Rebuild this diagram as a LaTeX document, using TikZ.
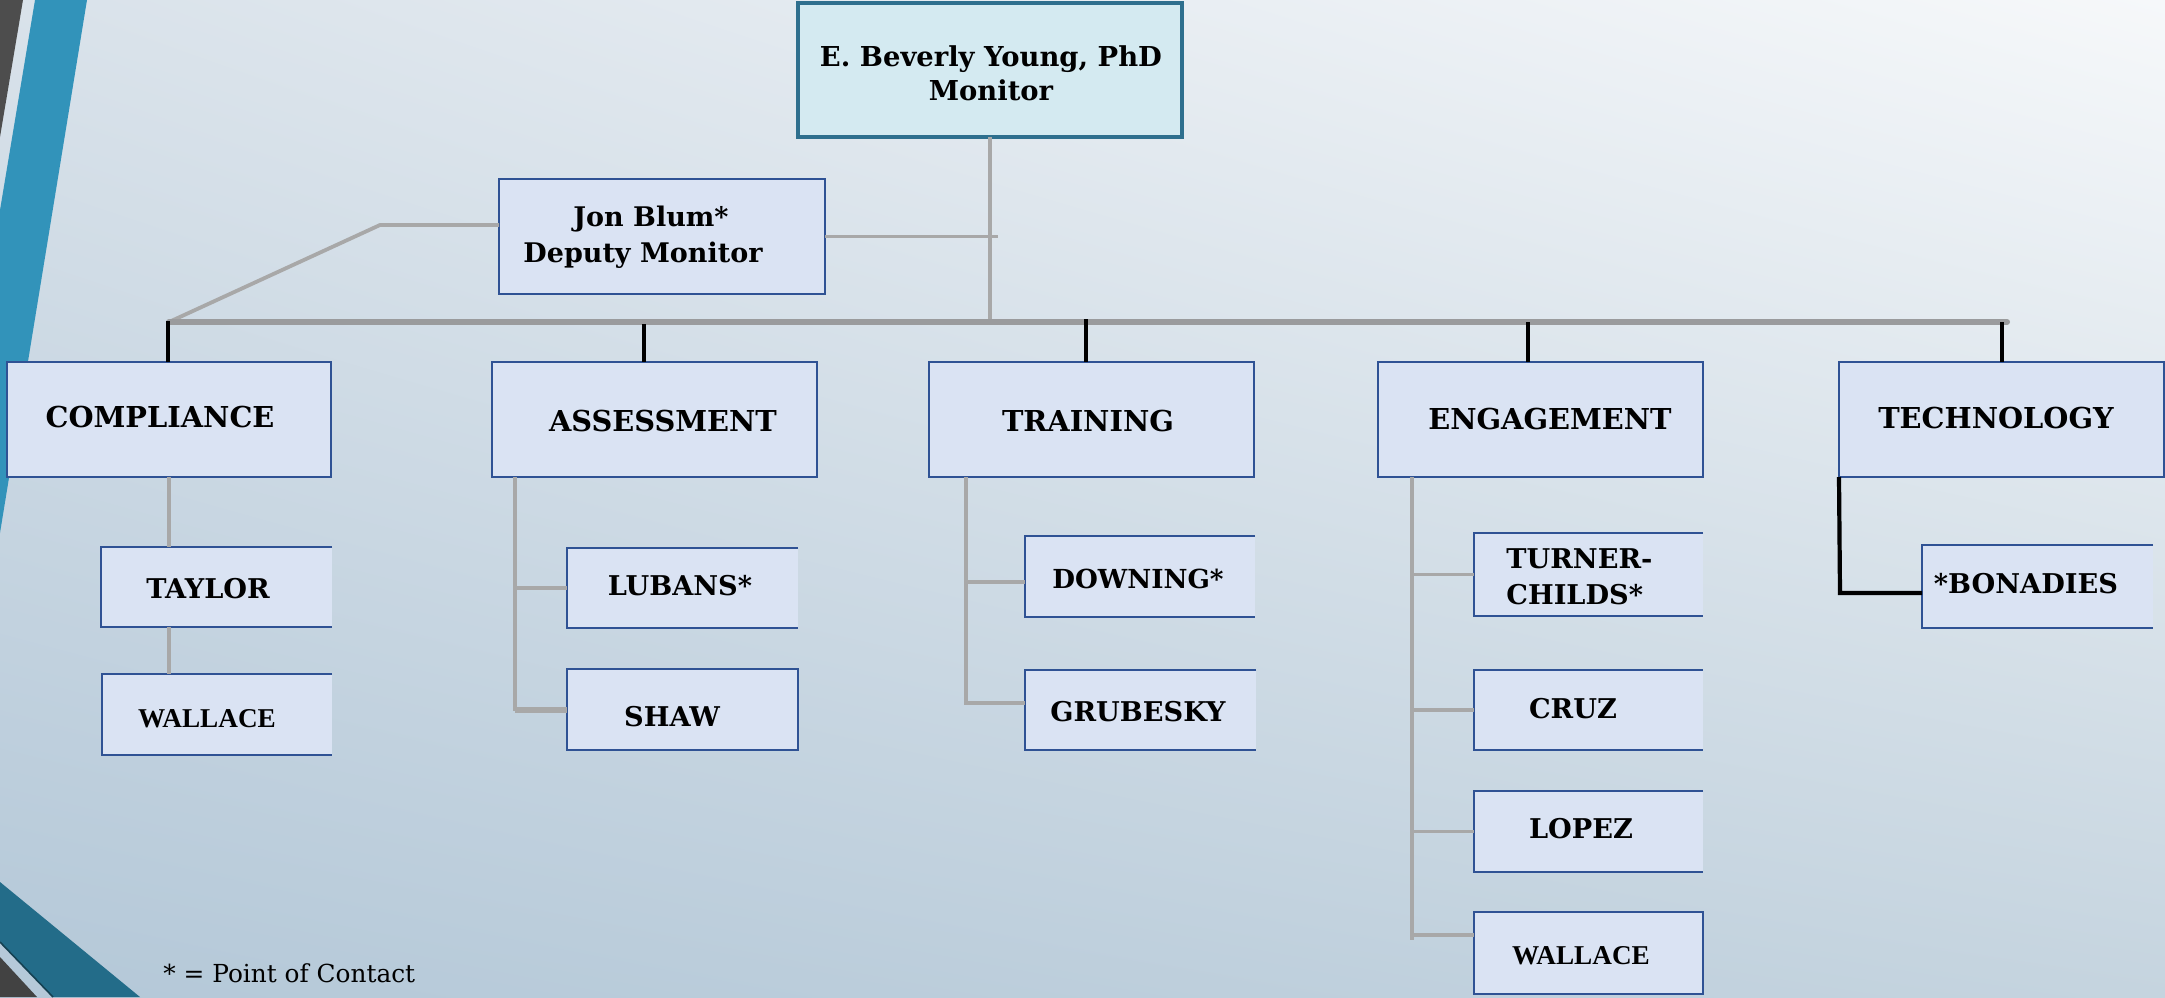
\documentclass[tikz,border=0pt]{standalone}
\usepackage{fontspec}
\setmainfont{Liberation Serif}
\newfontfamily\dvs{DejaVu Serif}
\usetikzlibrary{fit,shadings}
\definecolor{bgUL}{HTML}{D9E2EA}
\definecolor{bgUR}{HTML}{F6F8FA}
\definecolor{bgLL}{HTML}{B4C8D8}
\definecolor{bgLR}{HTML}{C5D4DF}
\definecolor{dkgray}{HTML}{4D4D4D}
\definecolor{blueband}{HTML}{3293BA}
\definecolor{tealband}{HTML}{236C89}
\definecolor{boxfill}{HTML}{DAE3F3}
\definecolor{boxline}{HTML}{2F5294}
\definecolor{monfill}{HTML}{D4EAF1}
\definecolor{monline}{HTML}{2E6F8E}
\definecolor{conn}{HTML}{A8A8A8}
\definecolor{barcol}{HTML}{9A9B9D}
\newcommand{\openright}[1]{\draw[boxline, line width=1.1pt] (#1.north east) -- (#1.north west) -- (#1.south west) -- (#1.south east);}
\begin{document}
\begin{tikzpicture}[x=0.5pt,y=-0.5pt,
  boxbase/.style={inner sep=0pt, outer sep=0pt},
  hbox/.style={boxbase, fill=boxfill, draw=boxline, line width=1.1pt},
  obox/.style={boxbase, fill=boxfill},
  mbox/.style={boxbase, fill=monfill, draw=monline, line width=1.6pt},
  txt/.style={inner sep=0pt, anchor=base},
  ltxt/.style={inner sep=0pt, anchor=base west},
  hfont/.style={font=\fontsize{14.4}{17}\dvs\bfseries},
  cfont/.style={font=\fontsize{13.6}{16}\dvs\bfseries},
  wfont/.style={font=\fontsize{13.6}{16}\rmfamily\bfseries},
  mfont/.style={font=\fontsize{13.7}{16}\dvs\bfseries},
  dfont/.style={font=\fontsize{13.5}{16}\dvs\bfseries},
  gline/.style={draw=conn, line width=1.9pt},
  bline/.style={draw=black, line width=2.1pt},
  barline/.style={draw=barcol, line width=3pt, line cap=round}
]
\useasboundingbox (0,0) rectangle (2165,997);
\shade[upper left=bgUL, upper right=bgUR, lower left=bgLL, lower right=bgLR] (0pt,0pt) rectangle (1082.5pt,-498.5pt);
% left decorations
\fill[dkgray] (0,0) -- (23,0) -- (0,137) -- cycle;
\fill[blueband] (35,0) -- (87,0) -- (0,533) -- (0,210) -- cycle;
\fill[tealband] (0,882) -- (140,997) -- (53,997) -- (0,942) -- cycle;
\draw[tealband!60!black, line width=0.8pt] (0,942) -- (53,997);
\fill[dkgray!85!black] (0,957) -- (37,997) -- (0,997) -- cycle;

% top boxes
\node[mbox, fit={(798,3) (1182,137)}] (mon) {};
\node[hbox, fit={(499,179) (825,294)}] (dep) {};
\node[txt, mfont] (monT1) at (991,66) {E. Beverly Young, PhD};
\node[txt, mfont] (monT2) at (991,100) {Monitor};
\node[txt, dfont] (depT1) at (651,226) {Jon Blum*};
\node[txt, dfont] (depT2) at (643,262) {Deputy Monitor};

% heading boxes
\node[hbox, fit={(7,362) (331,477)}] (comp) {};
\node[hbox, fit={(492,362) (817,477)}] (asmt) {};
\node[hbox, fit={(929,362) (1254,477)}] (train) {};
\node[hbox, fit={(1378,362) (1703,477)}] (eng) {};
\node[hbox, fit={(1839,362) (2164,477)}] (tech) {};
\node[txt, hfont] (compT) at (160,427) {COMPLIANCE};
\node[txt, hfont] (asmtT) at (663,431) {ASSESSMENT};
\node[txt, hfont] (trainT) at (1088,431) {TRAINING};
\node[txt, hfont] (engT) at (1550,429) {ENGAGEMENT};
\node[txt, hfont] (techT) at (1996,428) {TECHNOLOGY};

% child boxes
\node[obox, fit={(101,547) (332,627)}] (tay) {};
\node[obox, fit={(102,674) (332,755)}] (walA) {};
\node[obox, fit={(567,548) (798,628)}] (lub) {};
\node[hbox, fit={(567,669) (798,750)}] (shaw) {};
\node[obox, fit={(1025,536) (1255,617)}] (down) {};
\node[obox, fit={(1025,670) (1256,750)}] (grub) {};
\node[obox, fit={(1474,533) (1703,616)}] (turn) {};
\node[obox, fit={(1474,670) (1703,750)}] (cruz) {};
\node[obox, fit={(1474,791) (1703,872)}] (lopez) {};
\node[hbox, fit={(1474,912) (1703,994)}] (walB) {};
\node[obox, fit={(1922,545) (2153,628)}] (bon) {};
\openright{tay}
\openright{walA}
\openright{lub}
\openright{down}
\openright{grub}
\openright{turn}
\openright{cruz}
\openright{lopez}
\openright{bon}

\node[txt, cfont] (tayT) at (208,598) {TAYLOR};
\node[txt, wfont] (walAT) at (207,727) {WALLACE};
\node[txt, cfont] (lubT) at (680,595) {LUBANS*};
\node[txt, cfont] (shawT) at (672,726) {SHAW};
\node[txt, font=\fontsize{13.1}{16}\dvs\bfseries] (downT) at (1138,588) {DOWNING*};
\node[txt, cfont] (grubT) at (1138,721) {GRUBESKY};
\node[ltxt, cfont] (turnT1) at (1506,568) {TURNER-};
\node[ltxt, cfont] (turnT2) at (1506,604) {CHILDS*};
\node[txt, cfont] (cruzT) at (1573,718) {CRUZ};
\node[txt, cfont] (lopezT) at (1581,838) {LOPEZ};
\node[txt, wfont] (walBT) at (1581,964) {WALLACE};
\node[txt, cfont] (bonT) at (2026,593) {*BONADIES};

\node[ltxt, font=\fontsize{12.4}{15}\dvs] (note) at (163,982) {* = Point of Contact};

% connectors: top
\coordinate (barL) at (169,322);
\coordinate (barR) at (2007,322);
\coordinate (dk) at (380,225);
\coordinate (dj) at (998,236.5);
\draw[gline] (mon.south) -- (mon.south |- barL);
\draw[gline] (dep.east) -- (dj);
\draw[gline] (dk -| dep.west) -- (dk) -- (barL);
\draw[barline] (barL) -- (barR);

% ticks
\coordinate (t1) at (168,321);
\coordinate (t2) at (644,324);
\coordinate (t3) at (1086,319);
\coordinate (t4) at (1528,322);
\coordinate (t5) at (2002,322);
\draw[bline] (t1) -- (t1 |- comp.north);
\draw[bline] (t2) -- (t2 |- asmt.north);
\draw[bline] (t3) -- (t3 |- train.north);
\draw[bline] (t4) -- (t4 |- eng.north);
\draw[bline] (t5) -- (t5 |- tech.north);

% compliance
\draw[gline] (comp.south) -- (comp.south |- tay.north);
\draw[gline] (comp.south |- tay.south) -- (comp.south |- walA.north);
% assessment
\coordinate (a0) at (515,477);
\draw[gline] (a0) |- (shaw.west);
\draw[gline] (a0 |- lub.west) -- (lub.west);
\draw[conn, line width=3pt] (a0 |- shaw.west) -- (shaw.west);
% training
\coordinate (r0) at (966,477);
\coordinate (r1) at (966,582);
\coordinate (r2) at (966,703);
\draw[gline] (r0) -- (r2) -- (r2 -| grub.west);
\draw[gline] (r1) -- (r1 -| down.west);
% engagement
\coordinate (e0) at (1412,477);
\coordinate (e1) at (1412,940);
\coordinate (e2) at (1412,935);
\draw[gline] (e0) -- (e1);
\draw[gline] (e0 |- turn.west) -- (turn.west);
\draw[gline] (e0 |- cruz.west) -- (cruz.west);
\draw[gline] (e0 |- lopez.west) -- (lopez.west);
\draw[gline] (e2) -- (e2 -| walB.west);
% technology
\coordinate (k1) at (1840,593);
\draw[bline] (tech.south west) -- (k1) -- (k1 -| bon.west);
\end{tikzpicture}
\end{document}
